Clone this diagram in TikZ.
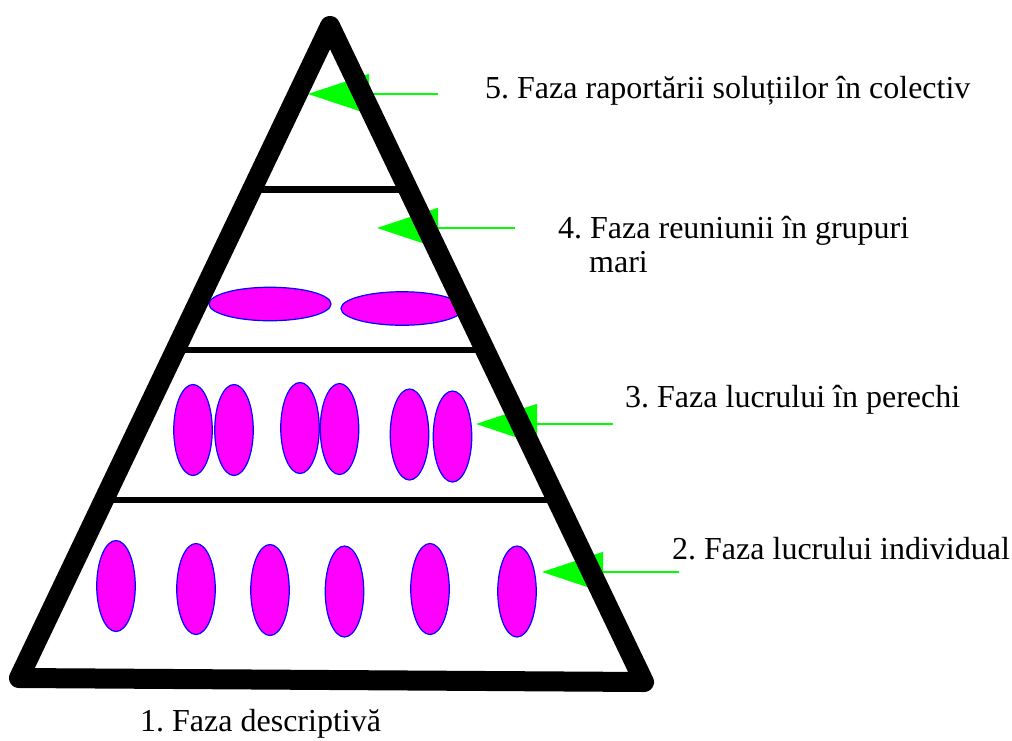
\documentclass[tikz,border=0pt]{standalone}
\usepackage{fontspec}
\setmainfont{Liberation Serif}
\newfontfamily\tnr{Liberation Serif}
\usetikzlibrary{shapes.geometric,arrows.meta}
\definecolor{pgreen}{HTML}{00FF00}
\definecolor{pmag}{HTML}{FF00FF}
\definecolor{pblue}{HTML}{0000FF}
\tikzset{
  blob/.style={ellipse,draw=pblue,line width=1.2pt,fill=pmag,inner sep=0pt},
  vblob/.style={blob,minimum width=38.5pt,minimum height=91pt},
  hblob/.style={blob,minimum width=122pt,minimum height=33.5pt},
  pointer/.style={draw=pgreen,line width=1.5pt,-{Triangle[length=61pt,width=40pt,fill=pgreen]}},
  phase/.style={anchor=base west,inner sep=0pt,font=\tnr\fontsize{32}{34}\selectfont\frenchspacing},
  frame/.style={line width=20pt,line join=round,line cap=round},
  shelf/.style={line width=6.5pt}
}
\begin{document}
\begin{tikzpicture}[x=1pt,y=-1pt]
\useasboundingbox (0,0) rectangle (1012,740);
\fill[white] (0,0) rectangle (1012,740);
% corners of the pyramid
\coordinate (A) at (330,26);
\coordinate (L) at (19,678);
\coordinate (R) at (644,682);
% level 4 ellipses
\node[hblob] (g1) at (270,304) {};
\node[hblob] (g2) at (402,308.5) {};
% level 3 ellipses (pairs)
\node[vblob] (p1) at (193,430) {};
\node[vblob] (p2) at (234,430) {};
\node[vblob] (p3) at (300,428) {};
\node[vblob] (p4) at (339.5,429) {};
\node[vblob] (p5) at (409.5,434.5) {};
\node[vblob] (p6) at (452.5,436.5) {};
% level 2 ellipses (individual)
\node[vblob] (i1) at (116,586) {};
\node[vblob] (i2) at (196,589) {};
\node[vblob] (i3) at (270,590) {};
\node[vblob] (i4) at (344.5,591.5) {};
\node[vblob] (i5) at (430,589) {};
\node[vblob] (i6) at (517,591.5) {};
% green pointers
\coordinate (s5) at (438,94);  \coordinate (e5) at (308,94);
\coordinate (s4) at (515,228); \coordinate (e4) at (377,228);
\coordinate (s3) at (613,424); \coordinate (e3) at (476,424);
\coordinate (s2) at (679,572); \coordinate (e2) at (542,572);
\draw[pointer] (s5) -- (e5);
\draw[pointer] (s4) -- (e4);
\draw[pointer] (s3) -- (e3);
\draw[pointer] (s2) -- (e2);
% shelves inside the pyramid
\begin{scope}
  \clip (A) -- (L) -- (R) -- cycle;
  \draw[shelf] (0,189.5) -- (1012,189.5);
  \draw[shelf] (0,350) -- (1012,350);
  \draw[shelf] (0,500) -- (1012,500);
\end{scope}
% pyramid frame
\draw[frame] (A) -- (L) -- (R) -- cycle;
% labels
\node[phase] (t5) at (485,98) {5. Faza raportării soluțiilor în colectiv};
\node[phase] (t4) at (558,238) {4. Faza reuniunii în grupuri};
\node[phase] (t4b) at (589,272) {mari};
\node[phase] (t3) at (625,407) {3. Faza lucrului în perechi};
\node[phase] (t2) at (672,559) {2. Faza lucrului individual};
\node[phase] (t1) at (140,731) {1. Faza descriptivă};
\end{tikzpicture}
\end{document}
